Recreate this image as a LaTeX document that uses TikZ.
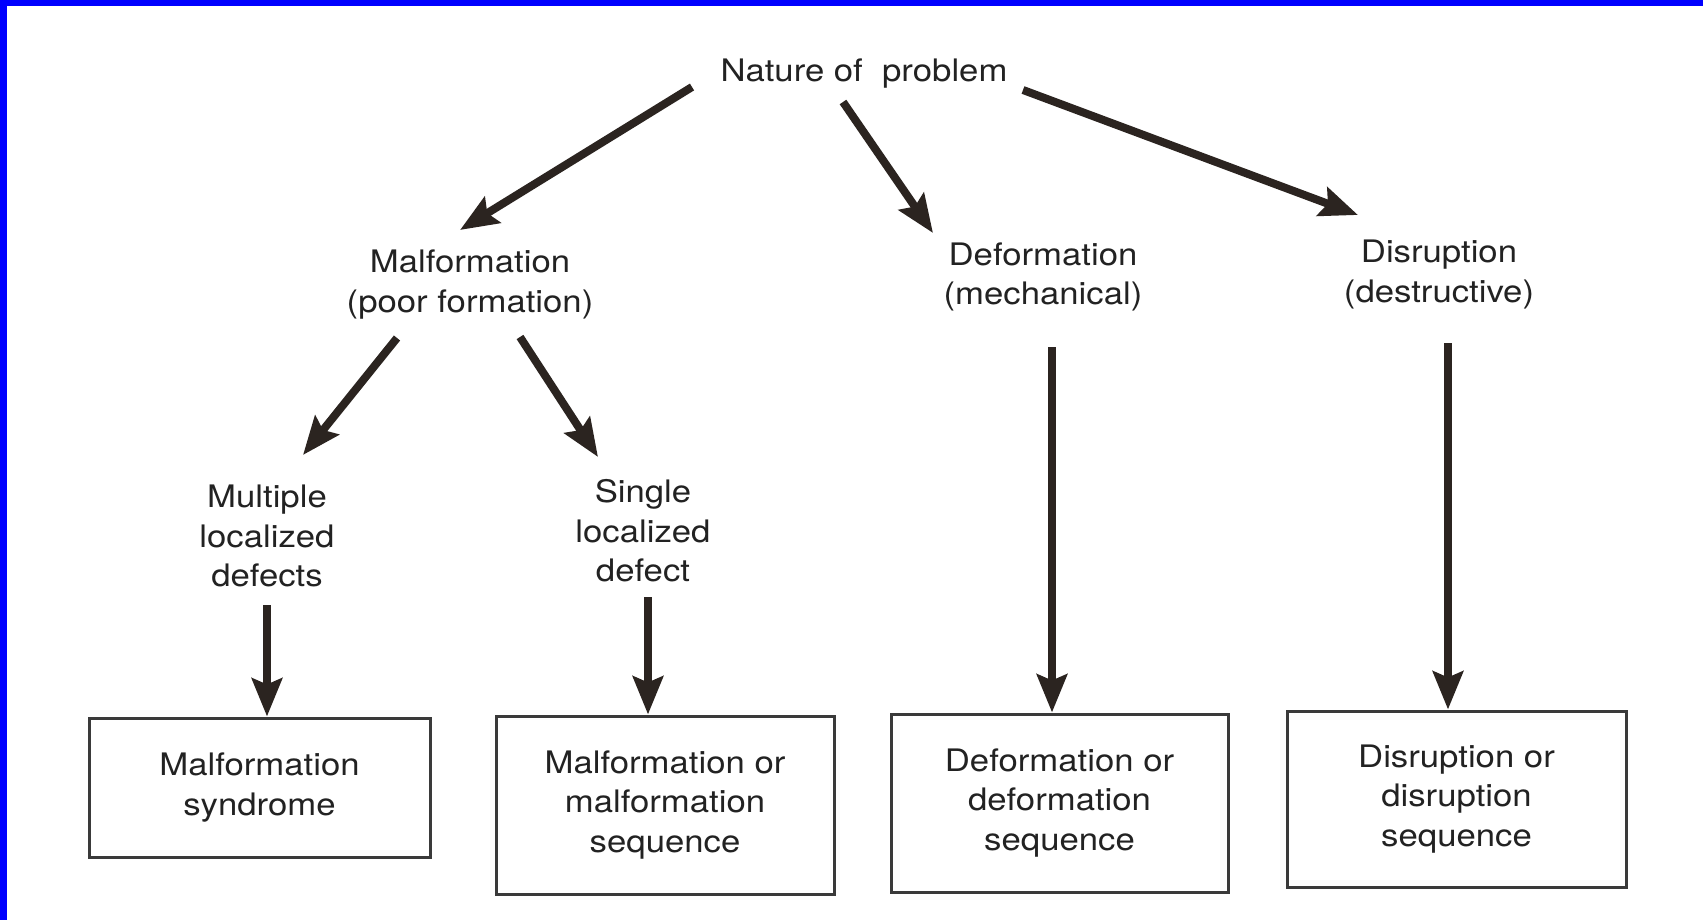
\documentclass[tikz,border=0pt]{standalone}
\usepackage{fontspec}
\setmainfont{TeX Gyre Heros}[FakeStretch=1.12]
\usetikzlibrary{arrows.meta}
\definecolor{ink}{HTML}{222222}
\definecolor{arrowink}{HTML}{2B2420}
\definecolor{boxline}{HTML}{3A3A3A}
\definecolor{frameblue}{HTML}{0000FF}
\begin{document}
\begin{tikzpicture}[x=0.5pt,y=-0.5pt,
  lbl/.style={inner sep=0pt, align=center, text=ink, font=\fontsize{15.5pt}{19.75pt}\selectfont},
  outbox/.style={lbl, draw=boxline, line width=1.5pt},
  arr/.style={draw=arrowink, line width=4pt, -{Stealth[length=19pt,width=15pt,inset=3pt]}}]
% canvas and frame
\useasboundingbox (0,0) rectangle (1703,920);
\fill[white] (0,0) rectangle (1703,920);
\fill[frameblue] (0,0) rectangle (1703,6);
\fill[frameblue] (0,0) rectangle (7,920);
% labels
\node[lbl] (nat)  at (864,74)    {Nature of~ problem};
\node[lbl] (malf) at (470,284.5) {Malformation\\(poor formation)};
\node[lbl] (defo) at (1043,277)  {Deformation\\(mechanical)};
\node[lbl] (disr) at (1439,274.5){Disruption\\(destructive)};
\node[lbl] (mult) at (267,536)   {Multiple\\localized\\defects};
\node[lbl] (sing) at (643,531)   {Single\\localized\\defect};
% boxes
\node[outbox, minimum width=170.5pt, minimum height=69.5pt] (box1) at (259.5,787.5) {Malformation\\syndrome};
\node[outbox, minimum width=169pt, minimum height=89pt] (box2) at (665,805) {Malformation or\\malformation\\sequence};
\node[outbox, minimum width=168.5pt, minimum height=89pt] (box3) at (1059.5,803) {Deformation or\\deformation\\sequence};
\node[outbox, minimum width=169.5pt, minimum height=88pt] (box4) at (1456.5,799) {Disruption or\\disruption\\sequence};
% arrows
\draw[arr] ([shift={(-172,13)}]nat.center) -- ([shift={(-10,-54.5)}]malf.center);
\draw[arr] ([shift={(-21,28)}]nat.center) -- ([shift={(-110,-44)}]defo.center);
\draw[arr] ([shift={(159,16)}]nat.center) -- ([shift={(-81,-59.5)}]disr.center);
\draw[arr] ([shift={(-73,53.5)}]malf.center) -- ([shift={(36,-81)}]mult.center);
\draw[arr] ([shift={(50,52.5)}]malf.center) -- ([shift={(-45,-74)}]sing.center);
\draw[arr] ([shift={(0,69)}]mult.center) -- ([shift={(7.5,0)}]box1.north);
\draw[arr] ([shift={(5,66)}]sing.center) -- ([shift={(-17,0)}]box2.north);
\draw[arr] ([shift={(9,70)}]defo.center) -- ([shift={(-7.5,0)}]box3.north);
\draw[arr] ([shift={(9,68.5)}]disr.center) -- ([shift={(-8.5,0)}]box4.north);
\end{tikzpicture}
\end{document}
